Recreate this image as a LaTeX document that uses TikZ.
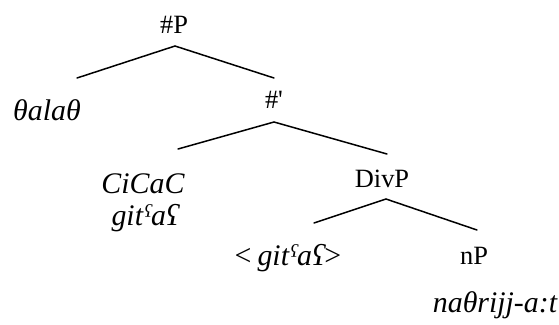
\documentclass[tikz,border=0pt]{standalone}
\usepackage{fontspec}
\setmainfont{Liberation Serif}
\begin{document}
\begin{tikzpicture}[x=1bp, y=-1bp,
  lbl/.style={anchor=base, inner sep=0pt, font=\fontsize{26.5}{30}\selectfont},
  itlbl/.style={anchor=base, inner sep=0pt, font=\fontsize{30}{34}\selectfont\itshape},
  branch/.style={line width=1.5bp, line cap=round}]
\useasboundingbox (0,0) rectangle (559,324);

% labels
\node[lbl]   (hP)    at (174,33)  {\#P};
\node[itlbl] (theta) at (47,120)  {θalaθ};
\node[lbl]   (hbar)  at (274,108) {\#\textquotesingle};
\node[itlbl] (cicac) at (143,193) {CiCaC};
\node[itlbl] (git)   at (145,225) {gitˤaʕ};
\node[lbl]   (divp)  at (382,187) {DivP};
\node[itlbl] (copy)  at (288,265) {\upshape<\hspace{0.2em}\itshape gitˤaʕ\upshape>};
\node[lbl]   (np)    at (474,264) {nP};
\node[itlbl] (nathr) at (495,312) {naθrijj-a:t};

% branch points
\coordinate (hP-top) at (175,46);
\coordinate (hP-l)   at (77,78);
\coordinate (hP-r)   at (274,78);
\coordinate (hb-top) at (274,122);
\coordinate (hb-l)   at (178,149);
\coordinate (hb-r)   at (387,154);
\coordinate (dv-top) at (386,199);
\coordinate (dv-l)   at (314,223);
\coordinate (dv-r)   at (477,230);

\draw[branch] (hP-l) -- (hP-top) -- (hP-r);
\draw[branch] (hb-l) -- (hb-top) -- (hb-r);
\draw[branch] (dv-l) -- (dv-top) -- (dv-r);
\end{tikzpicture}
\end{document}
